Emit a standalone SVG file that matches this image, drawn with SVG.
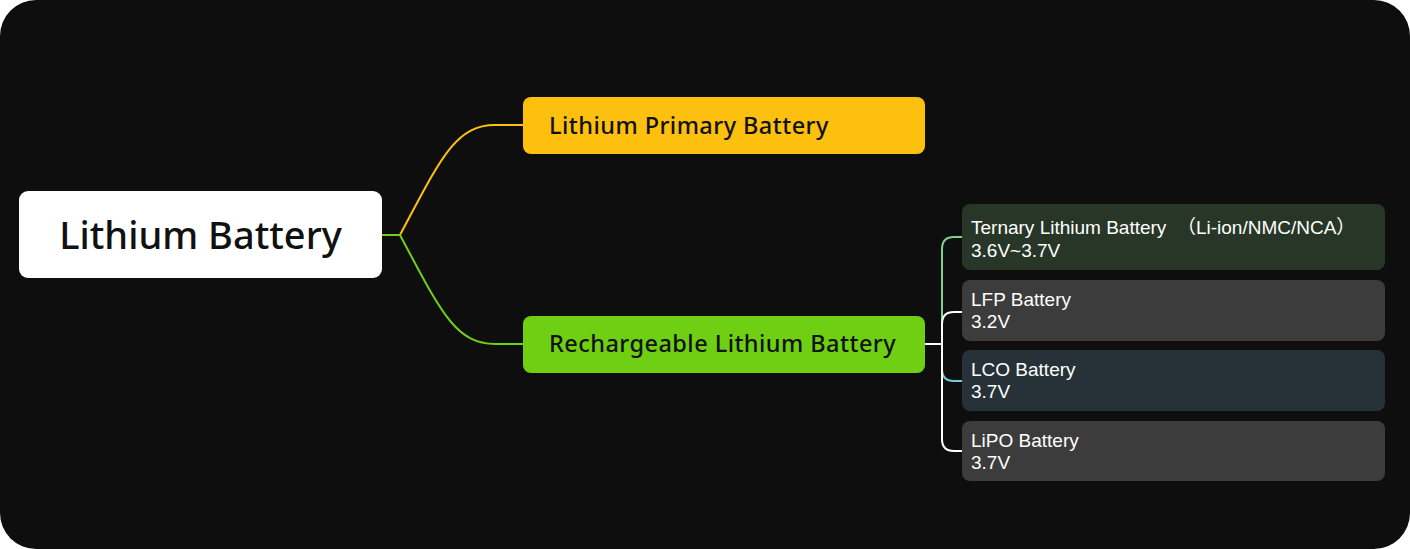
<svg xmlns="http://www.w3.org/2000/svg" width="1410" height="549" viewBox="0 0 1410 549">
<style>
.t{font-family:"Noto Sans","Noto Sans CJK SC",sans-serif;}
.s{font-family:"Liberation Sans","Noto Sans CJK SC",sans-serif;}
.root{font-size:38px;font-weight:500;fill:#111;}
.l1{font-size:23.5px;font-weight:500;fill:#111;letter-spacing:0.45px;}
.l2{font-size:19px;font-weight:400;fill:#fff;}
.c{fill:none;stroke-width:2;}
</style>
<rect x="0" y="0" width="1410" height="549" fill="#ffffff"/>
<rect x="0" y="0" width="1410" height="549" rx="36" fill="#0e0e0e"/>
<g id="connectors">
<path class="c" stroke="#ffc10a" d="M400 235 C440 160 455 125 495 125 L523 125"/>
<path class="c" stroke="#6fcf14" d="M382 235 L400 235 C440 310 455 344 495 344 L523 344"/>
<path class="c" stroke="#ffffff" d="M925 344 L942 344"/>
<path class="c" stroke="#7fd18f" d="M942 344 V249 Q942 237 954 237 H963"/>
<path class="c" stroke="#ffffff" d="M942 344 V324 Q942 312 954 312 H963"/>
<path class="c" stroke="#79c9e6" d="M942 344 V369 Q942 381 954 381 H963"/>
<path class="c" stroke="#ffffff" d="M942 344 V439 Q942 451 954 451 H963"/>
</g>
<g id="root">
<rect x="19" y="191" width="363" height="87" rx="9" fill="#ffffff"/>
<text class="t root" x="200.5" y="249" text-anchor="middle">Lithium Battery</text>
</g>
<g id="primary">
<rect x="523" y="97" width="402" height="57" rx="8" fill="#fdc00e"/>
<text class="t l1" x="549" y="134">Lithium Primary Battery</text>
</g>
<g id="rechargeable">
<rect x="523" y="316" width="402" height="57" rx="8" fill="#6fcf12"/>
<text class="t l1" x="549" y="352">Rechargeable Lithium Battery</text>
</g>
<g id="ternary">
<rect x="962" y="204" width="423" height="66" rx="8" fill="#283628"/>
<text class="s l2" x="971" y="234" xml:space="preserve">Ternary Lithium Battery  （Li-ion/NMC/NCA）</text>
<text class="s l2" x="971" y="257">3.6V~3.7V</text>
</g>
<g id="lfp">
<rect x="962" y="280" width="423" height="61" rx="8" fill="#3c3c3c"/>
<text class="s l2" x="971" y="306">LFP Battery</text>
<text class="s l2" x="971" y="328">3.2V</text>
</g>
<g id="lco">
<rect x="962" y="350" width="423" height="61" rx="8" fill="#263238"/>
<text class="s l2" x="971" y="376">LCO Battery</text>
<text class="s l2" x="971" y="398">3.7V</text>
</g>
<g id="lipo">
<rect x="962" y="421" width="423" height="60" rx="8" fill="#3c3c3c"/>
<text class="s l2" x="971" y="447">LiPO Battery</text>
<text class="s l2" x="971" y="469">3.7V</text>
</g>
</svg>
